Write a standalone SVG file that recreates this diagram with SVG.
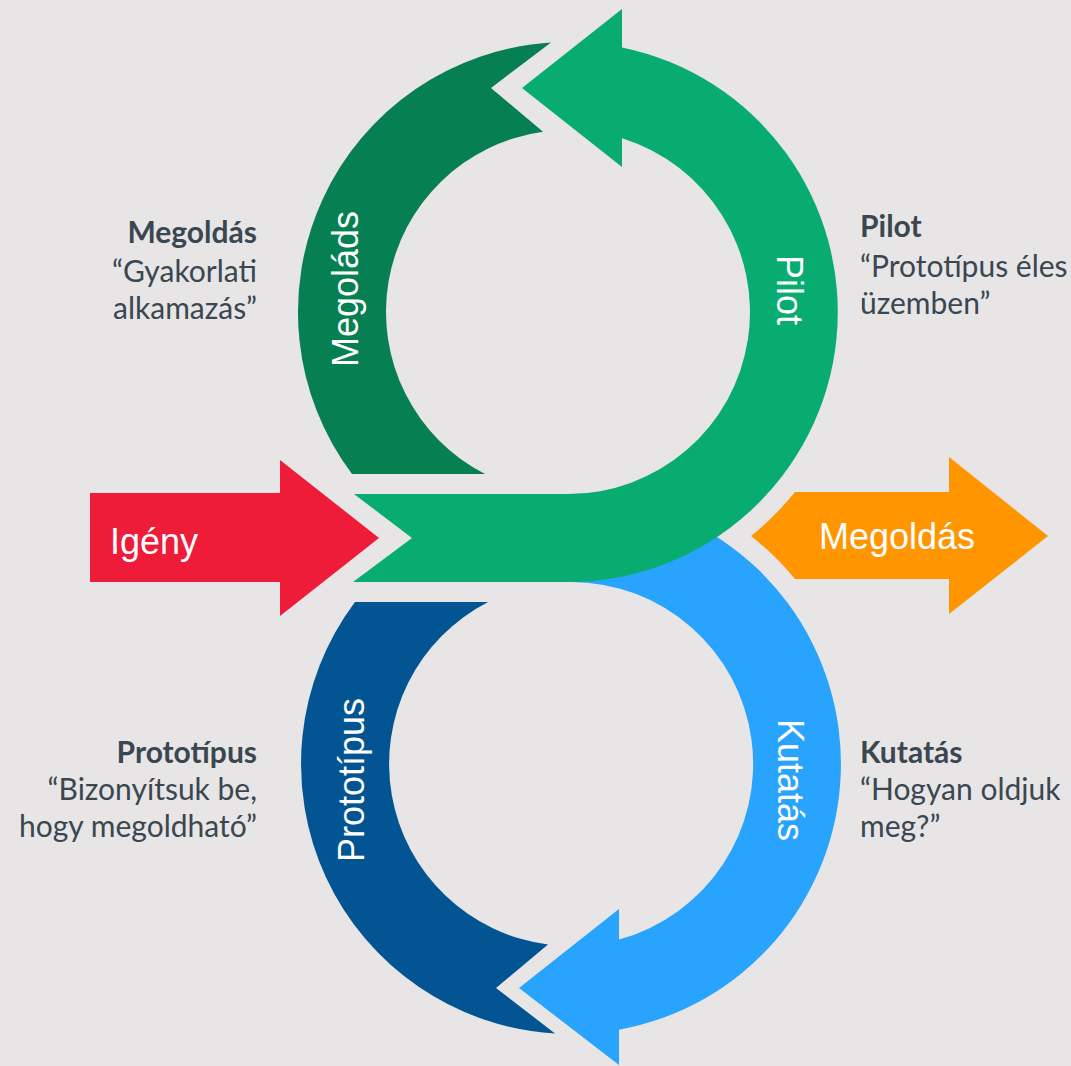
<svg xmlns="http://www.w3.org/2000/svg" width="1071" height="1066" viewBox="0 0 1071 1066">
<style>
.lbl{font-family:"Liberation Sans",Arial,sans-serif;font-size:36px;fill:#ffffff}
.side{font-family:Lato,"Open Sans",sans-serif;font-size:30px;fill:#3a4750}
.side .b{font-weight:bold}
</style>
<rect x="0" y="0" width="1071" height="1066" fill="#e7e5e5"/>
<g id="connectors">
<g id="kutatas">
<path d="M 571 540 L 640 503 A 270 270 0 0 1 619 1029.7 L 619 1065 L 519 988 L 619 909 L 619 939.6 A 182 182 0 0 0 571 582 Z" fill="#28a3fe"/>
<text class="lbl" transform="translate(778,780) rotate(90)" text-anchor="middle">Kutatás</text>
</g>
<g id="prototipus">
<path d="M 355 602 L 488.1 602 A 182 182 0 0 0 548 944.5 L 496 988 L 555 1033.5 A 270 270 0 0 1 355 602 Z" fill="#025492"/>
<text class="lbl" transform="translate(364,780) rotate(-90)" text-anchor="middle">Prototípus</text>
</g>
<g id="megoldas-arc">
<path d="M 551 42.5 A 270 270 0 0 0 352 474 L 485.1 474 A 182 182 0 0 1 543 131.7 L 491 88 Z" fill="#067f52"/>
<text class="lbl" transform="translate(358,289) rotate(-90)" text-anchor="middle">Megoláds</text>
</g>
<g id="pilot">
<path d="M 522 88 L 622 9 L 622 47.5 A 270 270 0 0 1 568 582 L 353 582 L 412 538 L 354 494 L 568 494 A 182 182 0 0 0 622 138.2 L 622 167 Z" fill="#08ac71"/>
<text class="lbl" transform="translate(777,290) rotate(90)" text-anchor="middle">Pilot</text>
</g>
</g>
<g id="igeny">
<path d="M 90 493 L 280 493 L 280 460 L 379 538 L 280 616 L 280 582 L 90 582 Z" fill="#ee1b39"/>
<text class="lbl" x="110" y="554">Igény</text>
</g>
<g id="megoldas-out">
<path d="M 751 536 A 290 290 0 0 0 795 492 L 949 492 L 949 457 L 1048 536 L 949 614 L 949 579 L 795 579 A 290 290 0 0 0 751 536 Z" fill="#ff9600"/>
<text class="lbl" x="819" y="549">Megoldás</text>
</g>
<g id="label-megoldas" class="side" text-anchor="end">
<text class="b" x="257" y="243">Megoldás</text>
<text x="257" y="282">“Gyakorlati</text>
<text x="257" y="319">alkamazás”</text>
</g>
<g id="label-pilot" class="side">
<text class="b" x="860" y="237">Pilot</text>
<text x="860" y="277">“Prototípus éles</text>
<text x="860" y="314">üzemben”</text>
</g>
<g id="label-prototipus" class="side" text-anchor="end">
<text class="b" x="257" y="763">Prototípus</text>
<text x="257" y="800">“Bizonyítsuk be,</text>
<text x="257" y="837">hogy megoldható”</text>
</g>
<g id="label-kutatas" class="side">
<text class="b" x="860" y="763">Kutatás</text>
<text x="860" y="800">“Hogyan oldjuk</text>
<text x="860" y="837">meg?”</text>
</g>
</svg>
